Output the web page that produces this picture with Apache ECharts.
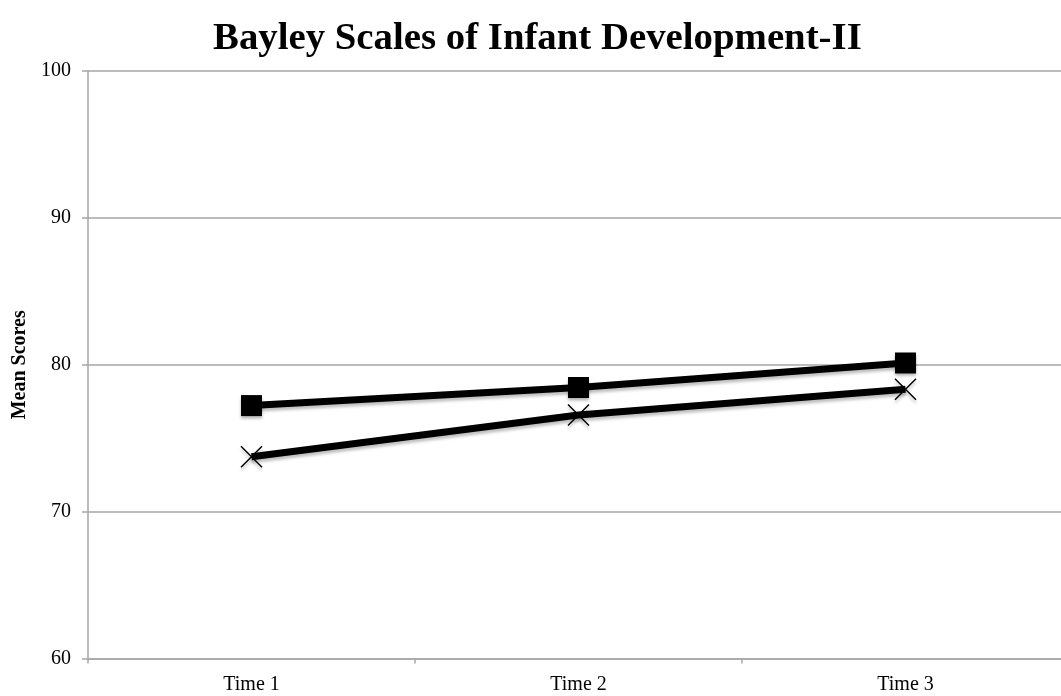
<!DOCTYPE html>
<html>
<head>
<meta charset="utf-8">
<script src="https://cdn.jsdelivr.net/npm/echarts@6/dist/echarts.min.js"></script>
<style>html,body{margin:0;padding:0;background:#fff}#c{width:1061px;height:696px}</style>
</head>
<body>
<div id="c"></div>
<script>
var titleText = 'Bayley Scales of Infant Development-II';
var categories = ['Time 1', 'Time 2', 'Time 3'];
var squareSeries = [77.22, 78.45, 80.12];
var crossSeries = [73.74, 76.58, 78.33];
var yTicks = { min: 60, max: 100, interval: 10 };
var yName = 'Mean Scores';

var font = '"Liberation Serif", "Times New Roman", serif';
var chart = echarts.init(document.getElementById('c'), null, { renderer: 'canvas' });
chart.setOption({
  backgroundColor: '#ffffff',
  animation: false,
  title: {
    text: titleText, left: 208, top: 14,
    textStyle: { fontFamily: font, fontWeight: 'bold', fontSize: 38.8, color: '#000' }
  },
  grid: { left: 88, right: -8, top: 71, bottom: 37.5, containLabel: false, outerBoundsMode: 'none' },
  xAxis: {
    type: 'category', data: categories, boundaryGap: true,
    axisLine: { lineStyle: { color: '#a6a6a6', width: 1.5 } },
    axisTick: { show: true, length: 5, lineStyle: { color: '#a6a6a6', width: 1.5 } },
    axisLabel: { fontFamily: font, fontSize: 20, color: '#000', margin: 16 }
  },
  yAxis: {
    type: 'value', min: yTicks.min, max: yTicks.max, interval: yTicks.interval,
    name: yName, nameLocation: 'middle', nameRotate: 90, nameGap: 58,
    nameTextStyle: { fontFamily: font, fontWeight: 'bold', fontSize: 20, color: '#000' },
    axisLine: { show: true, lineStyle: { color: '#a6a6a6', width: 1.5 } },
    axisTick: { show: true, length: 6, lineStyle: { color: '#a6a6a6', width: 1.5 } },
    axisLabel: { fontFamily: font, fontSize: 20, color: '#000', margin: 17 },
    splitLine: { show: true, lineStyle: { color: '#a6a6a6', width: 1.5 } }
  },
  series: [
    {
      name: 'A', type: 'line', data: squareSeries,
      symbol: 'rect', symbolSize: 21,
      lineStyle: { color: '#000', width: 7, shadowColor: 'rgba(0,0,0,0.25)', shadowBlur: 3, shadowOffsetY: 3 },
      itemStyle: { color: '#000', shadowColor: 'rgba(0,0,0,0.3)', shadowBlur: 3, shadowOffsetY: 3 },
      z: 3
    },
    {
      name: 'B', type: 'line', data: crossSeries,
      symbol: 'path://M0,0L10,10M10,0L0,10', symbolSize: 21,
      lineStyle: { color: '#000', width: 7, shadowColor: 'rgba(0,0,0,0.25)', shadowBlur: 3, shadowOffsetY: 3 },
      itemStyle: { color: 'rgba(230,230,230,0.6)', borderColor: '#000', borderWidth: 1.5, shadowColor: 'rgba(0,0,0,0.25)', shadowBlur: 3, shadowOffsetY: 3 },
      z: 3
    }
  ]
});
</script>
</body>
</html>
